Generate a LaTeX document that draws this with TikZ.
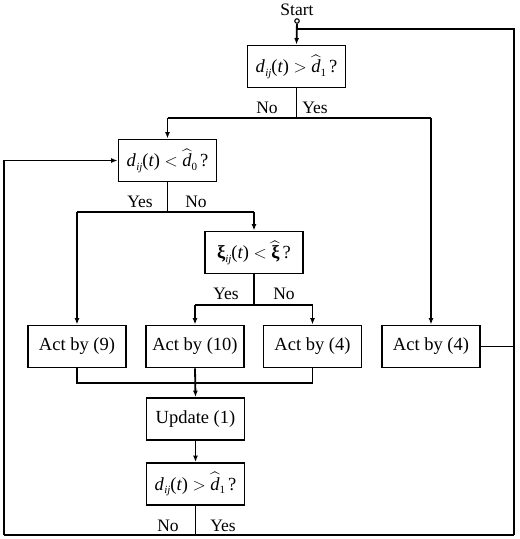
\documentclass[tikz,border=0pt]{standalone}
\usepackage{amsmath}
\usepackage{fontspec}
\setmainfont{Liberation Serif}
\usetikzlibrary{arrows.meta}
\newcommand{\ti}[1]{\text{\itshape #1}}
\newcommand{\subsc}[1]{\raisebox{-3.5pt}{\fontsize{11}{11}\selectfont #1}}
\newcommand{\dij}{\ti{d}\kern0.5pt\subsc{\itshape ij}(\ti{t})}
\newcommand{\xij}{\text{\bfseries ξ}\subsc{\itshape ij}(\ti{t})}
\begin{document}
\begin{tikzpicture}[x=1pt,y=-1pt,
  line width=1.8pt,
  box/.style={draw,line width=1.9pt,minimum width=98pt,minimum height=42pt,inner sep=0pt,font=\fontsize{18.5}{20}\selectfont},
  lbl/.style={font=\fontsize{17.5}{19}\selectfont,inner sep=0pt},
  arr/.style={-{Latex[length=6.5pt,width=5pt]}}]
\useasboundingbox (0,0) rectangle (520,539);
% nodes
\node[lbl] (start) at (297,10) {Start};
\node[draw,circle,inner sep=0pt,minimum size=4.5pt,line width=1.1pt,fill=white] (c0) at (297,21) {};
\node[box] (b1) at (296.5,66.5) {\dij\ $>$ $\widehat{\ti{d}}$\subsc{1}\,?};
\node[box] (b2) at (167.5,160.5) {\dij\ $<$ $\widehat{\ti{d}}$\subsc{0}\,?};
\node[box] (b3) at (254,252.5) {\xij\ $<$ $\widehat{\text{\bfseries ξ}}$\,?};
\node[box] (a9) at (77,346.5) {Act by (9)};
\node[box] (a10) at (195,346.5) {Act by (10)};
\node[box] (a4) at (312.5,346.5) {Act by (4)};
\node[box] (a4r) at (431,346.5) {Act by (4)};
\node[box] (up) at (195.5,419) {Update (1)};
\node[box] (b4) at (195.5,484) {\dij\ $>$ $\widehat{\ti{d}}$\subsc{1}\,?};
% labels
\node[lbl] (l1n) at (267,108) {No};
\node[lbl] (l1y) at (315,108) {Yes};
\node[lbl] (l2y) at (140,202) {Yes};
\node[lbl] (l2n) at (196,202) {No};
\node[lbl] (l3y) at (226,294) {Yes};
\node[lbl] (l3n) at (284,294) {No};
\node[lbl] (l4n) at (168,526) {No};
\node[lbl] (l4y) at (223,526) {Yes};
% coordinates
\coordinate (j1) at (296.5,118);
\coordinate (j1l) at (167.5,118);
\coordinate (j1r) at (431,118);
\coordinate (j2) at (167.5,212);
\coordinate (j2l) at (77,212);
\coordinate (j2r) at (254,212);
\coordinate (j3) at (254,305);
\coordinate (j3l) at (195,305);
\coordinate (j3r) at (312.5,305);
\coordinate (m1) at (77,383);
\coordinate (m3) at (312.5,383);
\coordinate (bb) at (195.5,535);
\coordinate (bl) at (4,535);
\coordinate (br) at (514,535);
\coordinate (tl) at (4,160.5);
\coordinate (rr) at (514,346.5);
\coordinate (tr) at (514,29);
\coordinate (tj) at (297,29);
% connectors
\draw[arr] (c0) -- (b1.north);
\draw (b1.south) -- (j1);
\draw (j1l) -- (j1r);
\draw[arr] (j1l) -- (b2.north);
\draw[arr] (j1r) -- (a4r.north);
\draw (b2.south) -- (j2);
\draw (j2l) -- (j2r);
\draw[arr] (j2l) -- (a9.north);
\draw[arr] (j2r) -- (b3.north);
\draw (b3.south) -- (j3);
\draw (j3l) -- (j3r);
\draw[arr] (j3l) -- (a10.north);
\draw[arr] (j3r) -- (a4.north);
\draw (a9.south) -- (m1) -- (m3) -- (a4.south);
\draw[arr] (a10.south) -- (up.north);
\draw[arr] (up.south) -- (b4.north);
\draw (b4.south) -- (bb);
\draw (bl) -- (br);
\draw[arr] (bl) -- (tl) -- (b2.west);
\draw (a4r.east) -- (rr);
\draw (br) -- (tr) -- (tj);
\end{tikzpicture}
\end{document}
